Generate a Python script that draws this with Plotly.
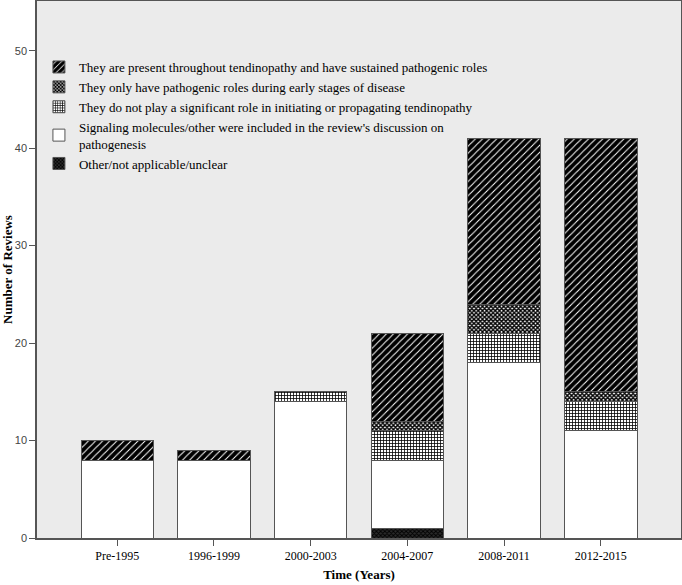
import plotly.graph_objects as go

categories = ["Pre-1995", "1996-1999", "2000-2003", "2004-2007", "2008-2011", "2012-2015"]
other_vals = [0, 0, 0, 1, 0, 0]
signaling_vals = [8, 8, 14, 7, 18, 11]
not_significant_vals = [0, 0, 1, 3, 3, 3]
early_vals = [0, 0, 0, 1, 3, 1]
sustained_vals = [2, 1, 0, 9, 17, 26]
y_ticks = [0, 10, 20, 30, 40, 50]

names = [
    "Other/not applicable/unclear",
    "Signaling molecules/other were included in the review's discussion on<br>pathogenesis",
    "They do not play a significant role in initiating or propagating tendinopathy",
    "They only have pathogenic roles during early stages of disease",
    "They are present throughout tendinopathy and have sustained pathogenic roles",
]
series = [other_vals, signaling_vals, not_significant_vals, early_vals, sustained_vals]
patterns = [
    dict(shape="x", fgcolor="black", bgcolor="#2a2a2a", size=3, solidity=0.5, fgopacity=1),
    dict(shape="", fgcolor="black", bgcolor="white"),
    dict(shape="+", fgcolor="black", bgcolor="white", size=3, solidity=0.45, fgopacity=1),
    dict(shape="x", fgcolor="black", bgcolor="white", size=3, solidity=0.7, fgopacity=1),
    dict(shape="/", fgcolor="black", bgcolor="white", size=5, solidity=0.8, fgopacity=1),
]
fills = ["#2a2a2a", "white", "white", "white", "white"]

fig = go.Figure()
for name, vals, pat, fc in zip(names, series, patterns, fills):
    fig.add_trace(go.Bar(
        x=categories, y=vals, name=name, width=0.75,
        marker=dict(color=fc, pattern=pat, line=dict(color="#555555", width=1)),
    ))

serif = "Liberation Serif, Times New Roman, serif"
fig.update_layout(
    barmode="stack",
    width=682, height=585,
    margin=dict(l=37, r=1, t=1, b=47),
    paper_bgcolor="white",
    plot_bgcolor="#ebebeb",
    font=dict(family=serif, size=13, color="black"),
    legend=dict(
        x=0.003, y=0.905, xanchor="left", yanchor="top",
        traceorder="reversed", bgcolor="rgba(0,0,0,0)",
        font=dict(family=serif, size=13, color="black"),
        tracegroupgap=0,
    ),
    showlegend=True,
)
fig.update_xaxes(
    type="category", range=[-0.83, 5.83], automargin=False,
    showline=True, linecolor="#555555", linewidth=1.5, mirror=True,
    ticks="outside", ticklen=6, tickcolor="#555555",
    tickfont=dict(family=serif, size=12, color="black"),
    title=dict(text="<b>Time (Years)</b>", font=dict(family=serif, size=13, color="black"), standoff=8),
    showgrid=False, zeroline=False,
)
fig.update_yaxes(
    range=[0, 55.1], tickvals=y_ticks, automargin=False,
    showline=True, linecolor="#555555", linewidth=1.5, mirror=True,
    ticks="outside", ticklen=6, tickcolor="#555555",
    tickfont=dict(family="Liberation Sans Narrow, Liberation Sans, Arial, sans-serif", size=11, color="#444444"),
    title=dict(text="<b>Number of Reviews</b>", font=dict(family=serif, size=13, color="black"), standoff=6),
    showgrid=False, zeroline=False,
)

fig.write_html("out.html", config={"displayModeBar": False},
               post_script="document.body.style.margin='0';")
